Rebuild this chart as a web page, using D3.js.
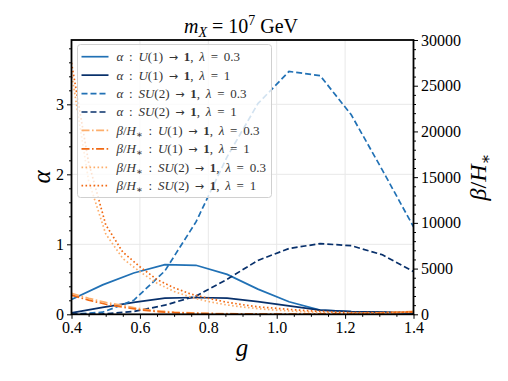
<!DOCTYPE html>
<html>
<head>
<meta charset="utf-8">
<script src="https://cdn.jsdelivr.net/npm/d3@7"></script>
<style>
  body { margin: 0; background: #fff; }
  svg text { font-family: "Liberation Serif", "DejaVu Serif", serif; fill: #000; }
</style>
</head>
<body>
<div id="chart"></div>
<script>
// g grid of the alpha curves (12 points between 0.4 and 1.4)
const gAlpha = [0.4, 0.491, 0.582, 0.673, 0.764, 0.855, 0.945, 1.036, 1.127, 1.218, 1.309, 1.4];
const alphaU1_03 = [0.21, 0.42, 0.59, 0.71, 0.70, 0.57, 0.36, 0.18, 0.06, 0.04, 0.03, 0.02];
const alphaU1_1 = [0.02, 0.10, 0.17, 0.23, 0.24, 0.23, 0.18, 0.12, 0.06, 0.04, 0.03, 0.02];
const alphaSU2_03 = [0.0, 0.03, 0.20, 0.62, 1.32, 2.25, 3.01, 3.47, 3.41, 2.85, 2.06, 1.25];
const alphaSU2_1 = [0.0, 0.005, 0.04, 0.13, 0.26, 0.50, 0.77, 0.94, 1.01, 0.98, 0.85, 0.61];

// g grid of the beta/H* curves
const gBeta = [0.4, 0.45, 0.5, 0.55, 0.6, 0.65, 0.7, 0.75, 0.8, 0.85, 0.9, 0.95, 1.0, 1.05, 1.1, 1.15, 1.2, 1.25, 1.3, 1.35, 1.4];
const betaU1_03 = [2300, 1750, 1300, 950, 620, 380, 240, 150, 100, 70, 55, 45, 40, 40, 45, 60, 80, 110, 160, 230, 320];
const betaU1_1 = [2100, 1550, 1100, 780, 500, 300, 180, 110, 70, 50, 40, 35, 30, 30, 35, 45, 60, 90, 130, 190, 260];
const betaSU2_03 = [26400, 14600, 8800, 6100, 4650, 3400, 2500, 1850, 1400, 1050, 800, 600, 450, 330, 250, 180, 140, 130, 150, 200, 260];
const betaSU2_1 = [27500, 16600, 9800, 6800, 5200, 3800, 2900, 2200, 1750, 1350, 1050, 800, 650, 500, 380, 280, 200, 170, 180, 220, 280];

const xTicks = [0.4, 0.6, 0.8, 1.0, 1.2, 1.4];
const yLeftTicks = [0, 1, 2, 3];
const yRightTicks = [0, 5000, 10000, 15000, 20000, 25000, 30000];

const blue = "#2171b5", navy = "#08306b", lightOrange = "#fdae6b", orange = "#f16913";

const series = [
  { g: gAlpha, v: alphaU1_03, axis: "L", color: blue, dash: null, pre: "α", grp: "U", lam: "0.3" },
  { g: gAlpha, v: alphaU1_1, axis: "L", color: navy, dash: null, pre: "α", grp: "U", lam: "1" },
  { g: gAlpha, v: alphaSU2_03, axis: "L", color: blue, dash: "6,3", pre: "α", grp: "SU", lam: "0.3" },
  { g: gAlpha, v: alphaSU2_1, axis: "L", color: navy, dash: "6,3", pre: "α", grp: "SU", lam: "1" },
  { g: gBeta, v: betaU1_03, axis: "R", color: lightOrange, dash: "8,2.5,1.6,2.5", pre: "β", grp: "U", lam: "0.3" },
  { g: gBeta, v: betaU1_1, axis: "R", color: orange, dash: "8,2.5,1.6,2.5", pre: "β", grp: "U", lam: "1" },
  { g: gBeta, v: betaSU2_03, axis: "R", color: lightOrange, dash: "1.6,2.4", pre: "β", grp: "SU", lam: "0.3" },
  { g: gBeta, v: betaSU2_1, axis: "R", color: orange, dash: "1.6,2.4", pre: "β", grp: "SU", lam: "1" }
];

const width = 508, height = 381;
const mLeft = 71.5, mRight = 413.5, mTop = 40, mBottom = 314.3;

const svg = d3.select("#chart").append("svg")
  .attr("width", width).attr("height", height);

const x = d3.scaleLinear().domain([0.4, 1.4]).range([mLeft, mRight]);
const yL = d3.scaleLinear().domain([0, 3.919]).range([mBottom, mTop]);
const yR = d3.scaleLinear().domain([0, 30000]).range([mBottom, mTop]);

// grid
const grid = svg.append("g").attr("stroke", "#e8e8e8").attr("stroke-width", 1);
grid.selectAll(".gx").data(xTicks.slice(1, -1)).enter().append("line")
  .attr("x1", d => x(d)).attr("x2", d => x(d)).attr("y1", mTop).attr("y2", mBottom);
grid.selectAll(".gy").data(yLeftTicks.slice(1)).enter().append("line")
  .attr("x1", mLeft).attr("x2", mRight).attr("y1", d => yL(d)).attr("y2", d => yL(d));

svg.append("clipPath").attr("id", "plot")
  .append("rect").attr("x", mLeft).attr("y", mTop).attr("width", mRight - mLeft).attr("height", mBottom - mTop);

const plot = svg.append("g").attr("clip-path", "url(#plot)");
series.forEach(s => {
  const yy = s.axis === "L" ? yL : yR;
  const line = d3.line().x((d, i) => x(s.g[i])).y(d => yy(d));
  plot.append("path")
    .datum(s.v)
    .attr("d", line)
    .attr("fill", "none")
    .attr("stroke", s.color)
    .attr("stroke-width", 1.7)
    .attr("stroke-dasharray", s.dash);
});

// axes
function styleAxis(g) {
  g.select(".domain").remove();
  g.selectAll("text").style("font-size", "16px").style("font-family", "'Liberation Serif', serif");
  g.selectAll("line").attr("stroke", "#000");
}

const minorX = d3.range(0.4, 1.401, 0.05).filter(v => Math.abs(v * 5 - Math.round(v * 5)) > 1e-6);
svg.append("g").attr("transform", `translate(0,${mBottom})`)
  .call(d3.axisBottom(x).tickValues(minorX).tickSize(2.5).tickFormat(""))
  .call(styleAxis);
svg.append("g").attr("transform", `translate(0,${mBottom})`)
  .call(d3.axisBottom(x).tickValues(xTicks).tickSize(4.5).tickPadding(3).tickFormat(d3.format(".1f")))
  .call(styleAxis);

const minorL = d3.range(0, 3.9, 0.2).filter(v => Math.abs(v - Math.round(v)) > 1e-6);
svg.append("g").attr("transform", `translate(${mLeft},0)`)
  .call(d3.axisLeft(yL).tickValues(minorL).tickSize(2.5).tickFormat(""))
  .call(styleAxis);
svg.append("g").attr("transform", `translate(${mLeft},0)`)
  .call(d3.axisLeft(yL).tickValues(yLeftTicks).tickSize(4.5).tickPadding(3).tickFormat(d3.format("d")))
  .call(styleAxis);

const minorR = d3.range(0, 30001, 1000).filter(v => v % 5000 !== 0);
svg.append("g").attr("transform", `translate(${mRight},0)`)
  .call(d3.axisRight(yR).tickValues(minorR).tickSize(2.5).tickFormat(""))
  .call(styleAxis);
svg.append("g").attr("transform", `translate(${mRight},0)`)
  .call(d3.axisRight(yR).tickValues(yRightTicks).tickSize(4.5).tickPadding(3).tickFormat(d3.format("d")))
  .call(styleAxis);

// frame
svg.append("rect")
  .attr("x", mLeft).attr("y", mTop).attr("width", mRight - mLeft).attr("height", mBottom - mTop)
  .attr("fill", "none").attr("stroke", "#000").attr("stroke-width", 1.8);

// legend
const lg = svg.append("g");
lg.append("rect")
  .attr("x", 77.5).attr("y", 44.5).attr("width", 194).attr("height", 153).attr("rx", 3)
  .attr("fill", "#fff").attr("fill-opacity", 0.8)
  .attr("stroke", "#d0d0d0").attr("stroke-width", 1);

series.forEach((s, i) => {
  const yy = 56.7 + i * 18.43;
  lg.append("line")
    .attr("x1", 81.5).attr("x2", 108.5).attr("y1", yy).attr("y2", yy)
    .attr("stroke", s.color).attr("stroke-width", 1.7)
    .attr("stroke-dasharray", s.dash);
  const t = lg.append("text")
    .attr("x", 116.5).attr("y", yy + 4.5)
    .style("font-size", "13px").style("fill", "#333")
    .style("word-spacing", "2.5px");
  t.append("tspan").style("font-style", "italic").text(s.pre);
  if (s.pre === "β") {
    t.append("tspan").text("/");
    t.append("tspan").style("font-style", "italic").text("H");
    t.append("tspan").attr("dy", 3).style("font-size", "10px").text("∗");
    t.append("tspan").attr("dy", -3).text(" : ");
  } else {
    t.append("tspan").text(" : ");
  }
  t.append("tspan").style("font-style", "italic").text(s.grp === "U" ? " U" : " SU");
  t.append("tspan").text(s.grp === "U" ? "(1) " : "(2) ");
  t.append("tspan").style("font-family", "'DejaVu Sans', sans-serif").style("font-size", "11px").text("→");
  t.append("tspan").style("font-weight", "bold").text(" 1");
  t.append("tspan").text(",  ");
  t.append("tspan").style("font-style", "italic").text("λ");
  t.append("tspan").text(" = " + s.lam);
});

// title
const title = svg.append("text")
  .attr("x", 241).attr("y", 33)
  .attr("text-anchor", "middle")
  .style("font-size", "20px");
title.append("tspan").style("font-style", "italic").text("m");
title.append("tspan").attr("dy", 4).style("font-size", "14px").style("font-style", "italic").text("X");
title.append("tspan").attr("dy", -4).text(" = 10");
title.append("tspan").attr("dy", -8).style("font-size", "14px").text("7");
title.append("tspan").attr("dy", 8).text(" GeV");

// axis labels
svg.append("text")
  .attr("x", 242).attr("y", 356)
  .attr("text-anchor", "middle")
  .style("font-size", "25px").style("font-style", "italic")
  .text("g");

svg.append("text")
  .attr("transform", `translate(50,177) rotate(-90)`)
  .attr("text-anchor", "middle")
  .style("font-size", "25px").style("font-style", "italic")
  .text("α");

const rl = svg.append("text")
  .attr("transform", `translate(486,177) rotate(-90)`)
  .attr("text-anchor", "middle")
  .style("font-size", "24px");
rl.append("tspan").style("font-style", "italic").text("β");
rl.append("tspan").text("/");
rl.append("tspan").style("font-style", "italic").text("H");
rl.append("tspan").attr("dy", 5).style("font-size", "16px").text("∗");
</script>
</body>
</html>
